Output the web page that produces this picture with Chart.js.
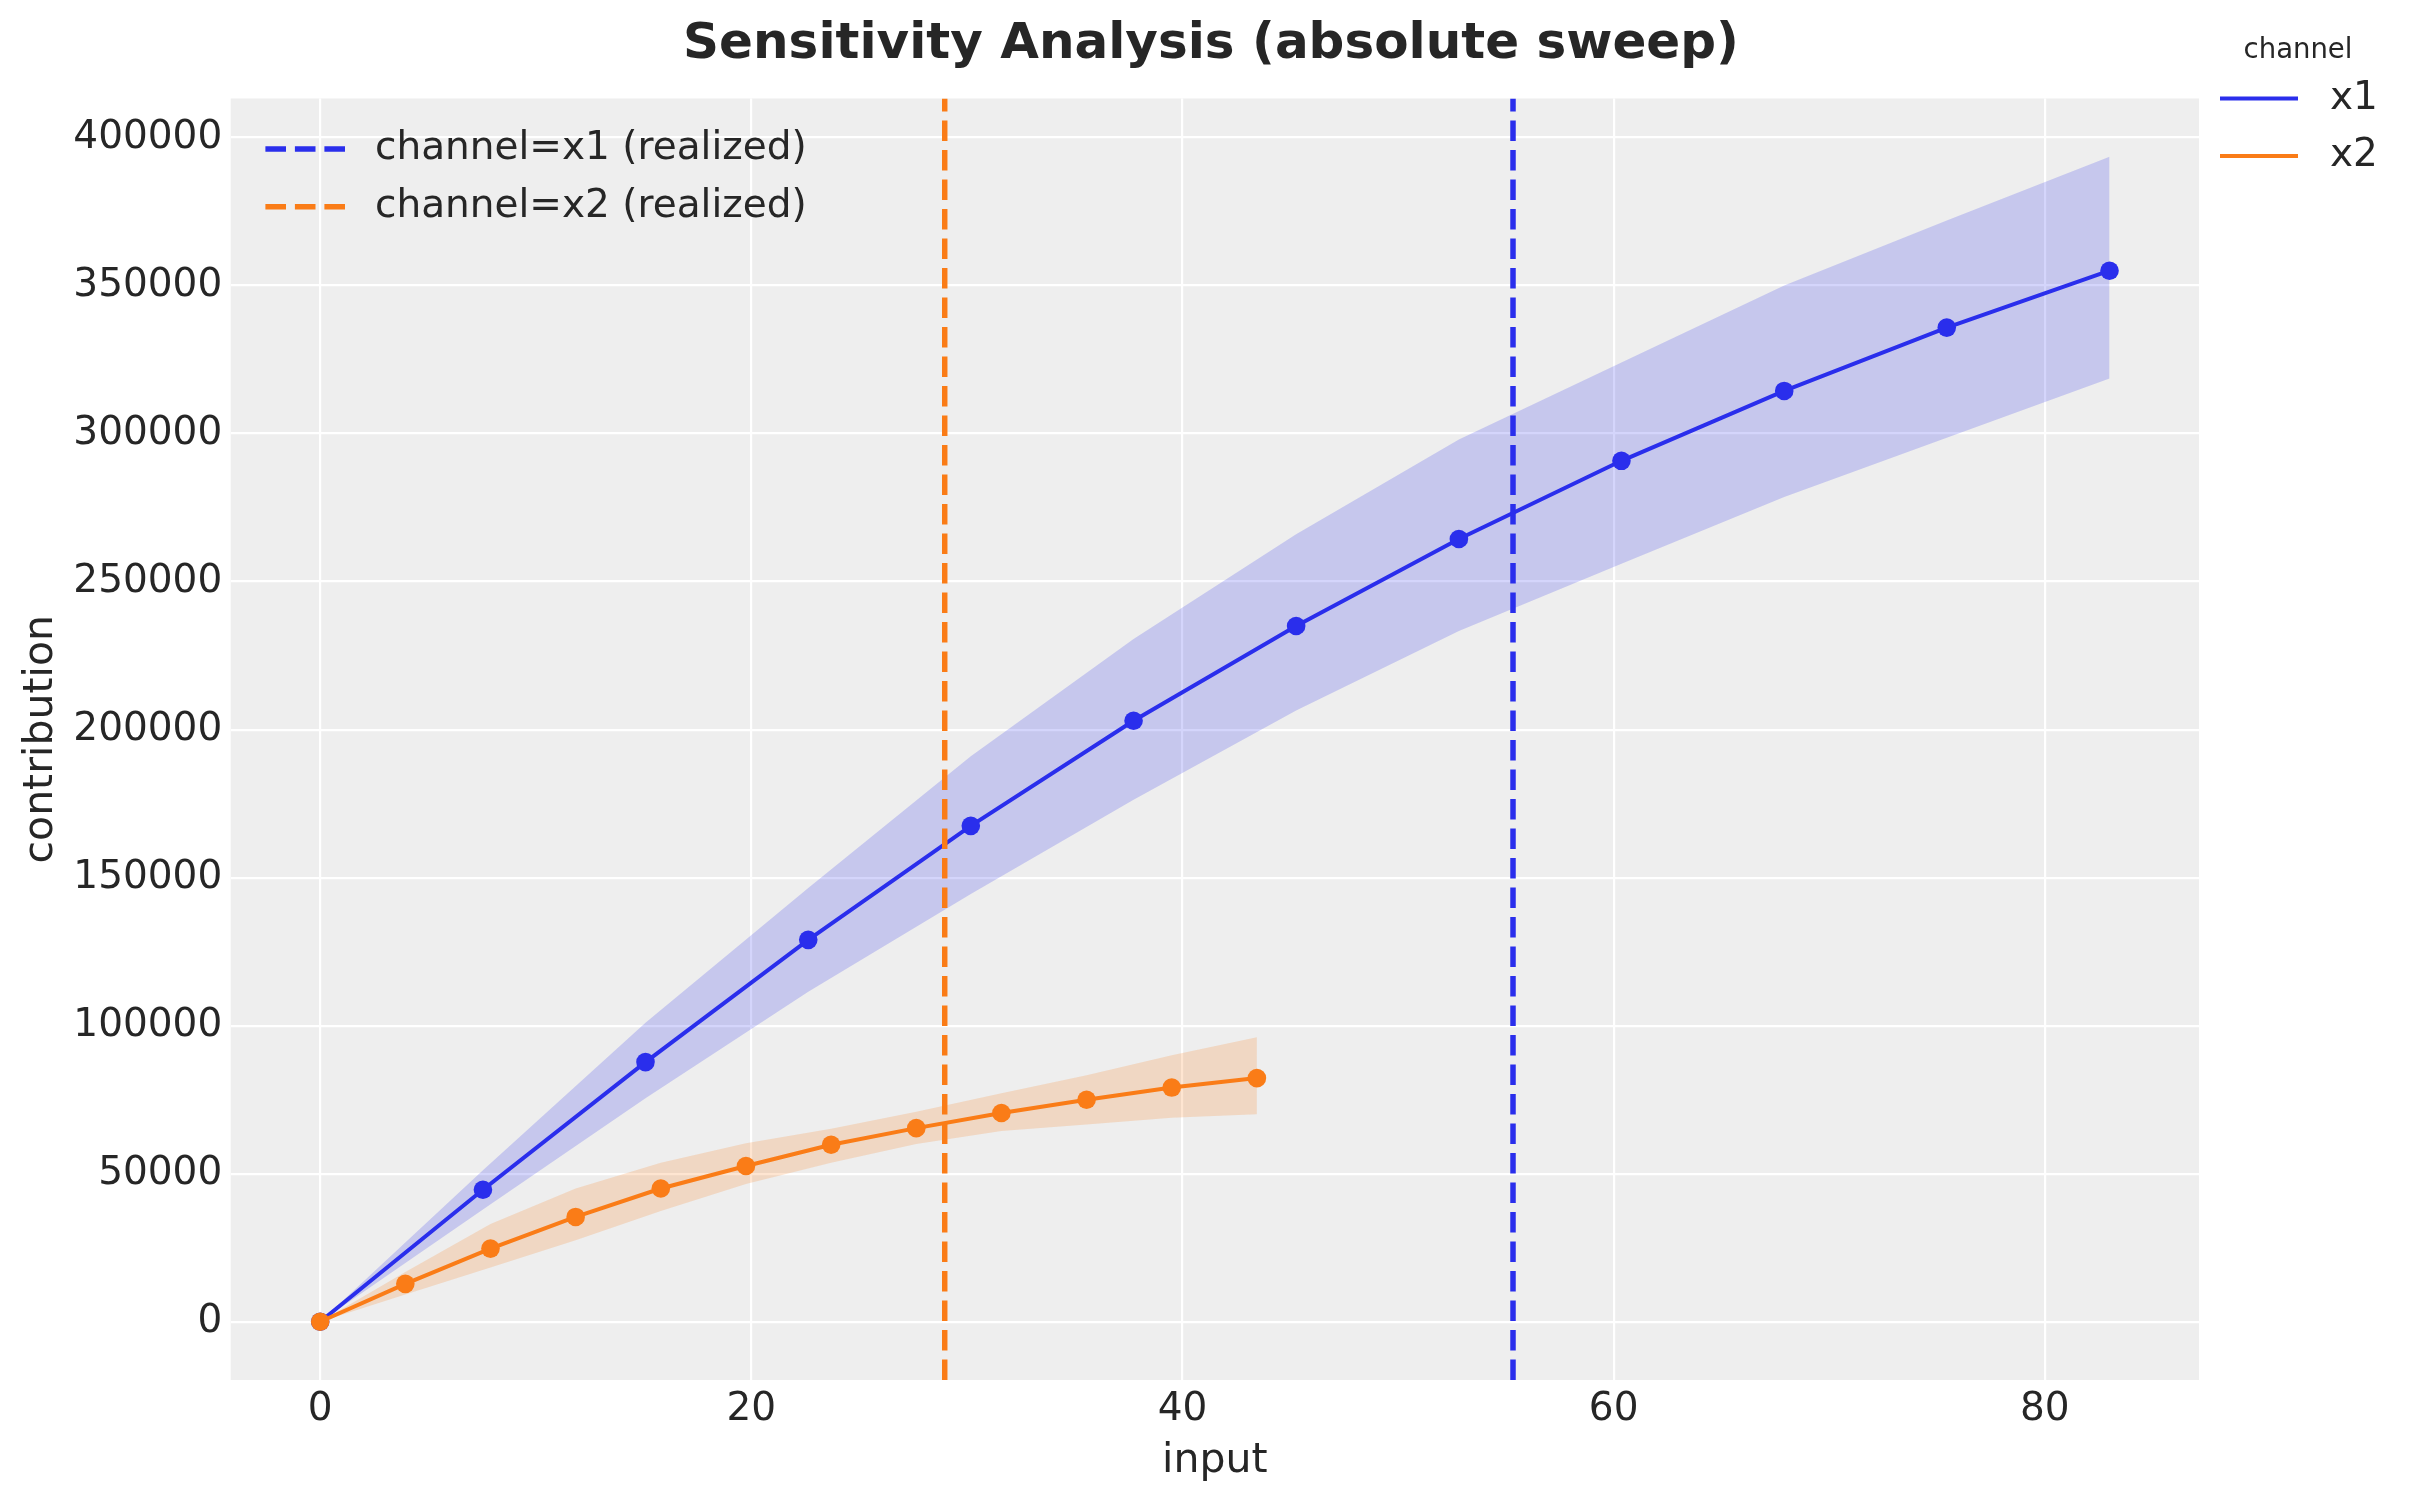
<!DOCTYPE html>
<html>
<head>
<meta charset="utf-8">
<title>Sensitivity Analysis (absolute sweep)</title>
<script src="https://cdn.jsdelivr.net/npm/chart.js@4.4.1/dist/chart.umd.min.js"></script>
<style>
    html, body { margin: 0; padding: 0; background: #ffffff; }
    #divGrafico { width: 2412px; height: 1501px; }
</style>
</head>
<body>
<div id="divGrafico"><canvas id="graficoSensibilidade" width="2412" height="1501"></canvas></div>
<script>
// valores
const inputX1 = [0, 7.55, 15.09, 22.64, 30.18, 37.73, 45.27, 52.82, 60.36, 67.91, 75.45, 83.0];
const mediaX1 = [0, 44600, 87700, 129000, 167500, 203000, 235000, 264400, 290800, 314400, 335800, 355000];
const superiorX1 = [0, 51200, 101000, 146500, 191000, 230600, 266000, 298000, 324000, 350000, 372000, 393500];
const inferiorX1 = [0, 37900, 75500, 111500, 144500, 176300, 206500, 233300, 256000, 278600, 298600, 318600];

const inputX2 = [0, 3.95, 7.9, 11.85, 15.8, 19.75, 23.7, 27.65, 31.6, 35.55, 39.5, 43.45];
const mediaX2 = [0, 12800, 24700, 35400, 45000, 52600, 59800, 65400, 70500, 75000, 79100, 82300];
const superiorX2 = [0, 16800, 33000, 45000, 53700, 60300, 65200, 70900, 77200, 83300, 90000, 96100];
const inferiorX2 = [0, 9200, 18300, 27500, 37400, 46500, 53700, 60000, 64400, 66600, 68900, 70100];

const realizadoX1 = 55.33;
const realizadoX2 = 28.97;

const ticksX = [0, 20, 40, 60, 80];
const ticksY = [0, 50000, 100000, 150000, 200000, 250000, 300000, 350000, 400000];
const limitesX = [-4.15, 87.15];
const limitesY = [-19675, 413175];

const canais = ['x1', 'x2'];
const legendaRealizado = ['channel=x1 (realized)', 'channel=x2 (realized)'];

const azul = '#2a2eec';
const laranja = '#fa7c17';
const corTexto = '#262626';
const fonte = '"DejaVu Sans"';
const tracejado = [20.6, 8.9];

function pontos(xs, ys) {
    return xs.map((x, i) => ({ x: x, y: ys[i] }));
}

function linhaVertical(x) {
    return [{ x: x, y: limitesY[0] }, { x: x, y: limitesY[1] }];
}

// fundo, titulo e as duas legendas
const pluginDecoracao = {
    id: 'decoracao',
    beforeDraw(chart) {
        const ctx = chart.ctx;
        const area = chart.chartArea;
        ctx.save();
        ctx.fillStyle = '#ffffff';
        ctx.fillRect(0, 0, chart.width, chart.height);
        ctx.fillStyle = '#eeeeee';
        ctx.fillRect(area.left, area.top, area.right - area.left, area.bottom - area.top);
        ctx.restore();
    },
    afterDraw(chart) {
        const ctx = chart.ctx;
        const area = chart.chartArea;
        ctx.save();

        ctx.fillStyle = corTexto;
        ctx.textAlign = 'center';
        ctx.textBaseline = 'alphabetic';
        ctx.font = 'bold 50px ' + fonte;
        ctx.fillText('Sensitivity Analysis (absolute sweep)', 1211, 58);

        // legenda das linhas tracejadas
        var cores = [azul, laranja];
        ctx.lineWidth = 5.5;
        ctx.setLineDash(tracejado);
        ctx.font = '39px ' + fonte;
        ctx.textAlign = 'left';
        ctx.textBaseline = 'middle';
        for (var i = 0; i < 2; i++) {
            var y = area.top + 50.5 + i * 57.7;
            ctx.strokeStyle = cores[i];
            ctx.beginPath();
            ctx.moveTo(area.left + 34.7, y);
            ctx.lineTo(area.left + 114.3, y);
            ctx.stroke();
            ctx.fillText(legendaRealizado[i], area.left + 144.3, y);
        }

        // legenda dos canais
        ctx.setLineDash([]);
        ctx.lineWidth = 4;
        ctx.font = '27.5px ' + fonte;
        ctx.textAlign = 'center';
        ctx.textBaseline = 'alphabetic';
        ctx.fillText('channel', 2298, 58.4);
        ctx.font = '39px ' + fonte;
        ctx.textAlign = 'left';
        ctx.textBaseline = 'middle';
        for (var j = 0; j < 2; j++) {
            var yc = 98.5 + j * 57.5;
            ctx.strokeStyle = cores[j];
            ctx.beginPath();
            ctx.moveTo(area.right + 21, yc);
            ctx.lineTo(area.right + 99, yc);
            ctx.stroke();
            ctx.fillText(canais[j], area.right + 131, yc);
        }
        ctx.restore();
    }
};

function criarGrafico() {
    var contexto = document.getElementById('graficoSensibilidade').getContext('2d');
    var faixaAzul = 'rgba(42, 46, 236, 0.2)';
    var faixaLaranja = 'rgba(250, 124, 23, 0.2)';

    var grafico = new Chart(contexto, {
        type: 'line',
        data: {
            datasets: [
                { label: 'x1 superior', data: pontos(inputX1, superiorX1), borderColor: 'transparent', borderWidth: 0, pointRadius: 0, backgroundColor: faixaAzul, fill: '+1', order: 6 },
                { label: 'x1 inferior', data: pontos(inputX1, inferiorX1), borderColor: 'transparent', borderWidth: 0, pointRadius: 0, fill: false, order: 6 },
                { label: canais[0], data: pontos(inputX1, mediaX1), borderColor: azul, backgroundColor: azul, borderWidth: 4, pointRadius: 9.3, pointBorderWidth: 0, fill: false, order: 5 },
                { label: 'x2 superior', data: pontos(inputX2, superiorX2), borderColor: 'transparent', borderWidth: 0, pointRadius: 0, backgroundColor: faixaLaranja, fill: '+1', order: 4 },
                { label: 'x2 inferior', data: pontos(inputX2, inferiorX2), borderColor: 'transparent', borderWidth: 0, pointRadius: 0, fill: false, order: 4 },
                { label: canais[1], data: pontos(inputX2, mediaX2), borderColor: laranja, backgroundColor: laranja, borderWidth: 4, pointRadius: 9.3, pointBorderWidth: 0, fill: false, order: 3 },
                { label: legendaRealizado[0], data: linhaVertical(realizadoX1), borderColor: azul, borderWidth: 5.5, borderDash: tracejado, pointRadius: 0, fill: false, order: 1 },
                { label: legendaRealizado[1], data: linhaVertical(realizadoX2), borderColor: laranja, borderWidth: 5.5, borderDash: tracejado, pointRadius: 0, fill: false, order: 1 }
            ]
        },
        options: {
            responsive: false,
            devicePixelRatio: 1,
            animation: false,
            events: [],
            layout: { padding: { top: 98.5, right: 213, left: 0, bottom: 0 } },
            plugins: {
                legend: { display: false },
                title: { display: false },
                tooltip: { enabled: false }
            },
            scales: {
                x: {
                    type: 'linear',
                    min: limitesX[0],
                    max: limitesX[1],
                    afterFit: function (scale) { scale.height = 121; },
                    afterBuildTicks: function (scale) { scale.ticks = ticksX.map(v => ({ value: v })); },
                    grid: { color: '#ffffff', lineWidth: 2.2, drawTicks: false },
                    border: { display: false },
                    ticks: {
                        color: corTexto,
                        padding: 6,
                        font: { family: fonte, size: 39 },
                        callback: v => String(v)
                    },
                    title: {
                        display: true,
                        text: 'input',
                        color: corTexto,
                        font: { family: fonte, size: 41 },
                        padding: { top: 0, bottom: 15 }
                    }
                },
                y: {
                    type: 'linear',
                    min: limitesY[0],
                    max: limitesY[1],
                    afterFit: function (scale) { scale.width = 230.7; },
                    afterBuildTicks: function (scale) { scale.ticks = ticksY.map(v => ({ value: v })); },
                    grid: { color: '#ffffff', lineWidth: 2.2, drawTicks: false },
                    border: { display: false },
                    ticks: {
                        color: corTexto,
                        padding: 8.5,
                        font: { family: fonte, size: 39 },
                        callback: v => String(v)
                    },
                    title: {
                        display: true,
                        text: 'contribution',
                        color: corTexto,
                        font: { family: fonte, size: 41 },
                        padding: { top: 17, bottom: 0 }
                    }
                }
            }
        },
        plugins: [pluginDecoracao]
    });
}

if (document.getElementById('graficoSensibilidade')) {
    criarGrafico();
}
</script>
</body>
</html>
